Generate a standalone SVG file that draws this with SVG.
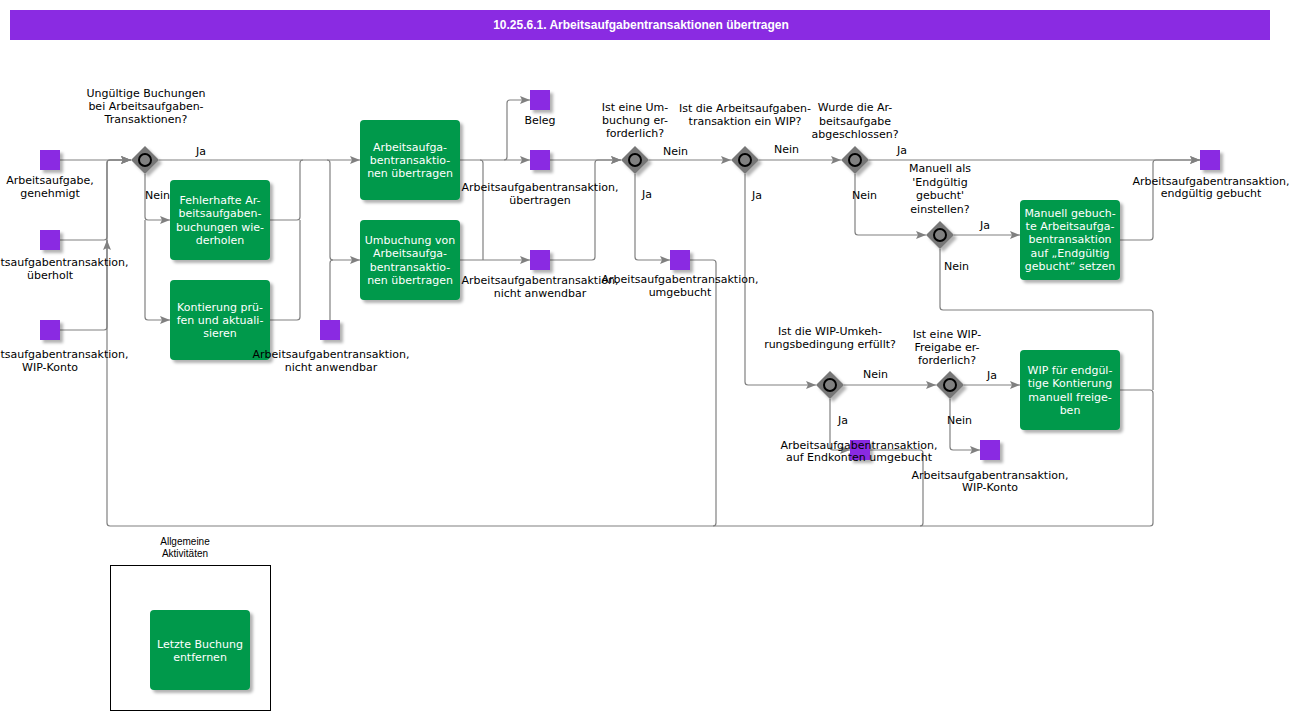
<svg xmlns="http://www.w3.org/2000/svg" width="1304" height="720" viewBox="0 0 1304 720">
<defs>
<filter id="sh" x="-20%" y="-20%" width="150%" height="150%"><feDropShadow dx="3" dy="3" stdDeviation="1.5" flood-color="#000" flood-opacity="0.3"/></filter>
<marker id="arr" markerUnits="userSpaceOnUse" viewBox="0 0 10 8" refX="10" refY="4" markerWidth="10" markerHeight="8" orient="auto"><path d="M0,0 L10,4 L0,8 L2,4 z" fill="#808080"/></marker>
</defs>
<style>
.t{font-family:"DejaVu Sans",Verdana,sans-serif;font-size:11px;fill:#000;text-anchor:middle}
.e{font-family:"DejaVu Sans",Verdana,sans-serif;font-size:11px;fill:#000}
.w{font-family:"DejaVu Sans",Verdana,sans-serif;font-size:11px;fill:#fff;text-anchor:middle}
.d{fill:#8a2be2;filter:url(#sh)}
.k{fill:#00994c;filter:url(#sh)}
.g{fill:#767676;filter:url(#sh)}
.gc{fill:#808080;stroke:#000;stroke-width:2}
.c path{fill:none;stroke:#808080;stroke-width:1.2}
.c path.a{marker-end:url(#arr)}
</style>
<rect width="1304" height="720" fill="#fff"/>
<g id="title"><rect x="10" y="10" width="1260" height="30" fill="#8a2be2"/><text x="641" y="29" font-family="'Liberation Sans',Arial,sans-serif" font-size="12" font-weight="bold" fill="#fff" text-anchor="middle">10.25.6.1. Arbeitsaufgabentransaktionen übertragen</text></g>

<g id="connectors" class="c">
<path class="a" d="M60,160 L131,160"/>
<path class="a" d="M60,240 L104,240 Q107,240 107,237 L107,163 Q107,160 110,160 L131,160"/>
<path class="a" d="M60,330 L104,330 Q107,330 107,327 L107,240"/>
<path class="a" d="M1120,390 L1150,390 Q1153,390 1153,393 L1153,523 Q1153,526 1150,526 L110,526 Q107,526 107,523 L107,163 Q107,160 110,160 L131,160"/>
<path d="M940,249 L940,307 Q940,310 943,310 L1150,310 Q1153,310 1153,313 L1153,390"/>
<path d="M690,260 L713,260 Q716,260 716,263 L716,523 Q716,526 713,526"/>
<path d="M870,450 L920,450 Q923,450 923,453 L923,523 Q923,526 920,526"/>
<path class="a" d="M159,160 L360,160"/>
<path d="M270,220 L297,220 Q300,220 300,217 L300,163 Q300,160 303,160"/>
<path d="M270,320 L297,320 Q300,320 300,317 L300,220"/>
<path class="a" d="M327,160 Q330,160 330,163 L330,257 Q330,260 333,260 L360,260"/>
<path d="M330,320 L330,263 Q330,260 333,260"/>
<path class="a" d="M145,174 L145,217 Q145,220 148,220 L170,220"/>
<path class="a" d="M145,220 L145,317 Q145,320 148,320 L170,320"/>
<path class="a" d="M460,160 L530,160"/>
<path class="a" d="M504,160 Q507,160 507,157 L507,103 Q507,100 510,100 L530,100"/>
<path class="a" d="M460,260 L530,260"/>
<path d="M480,160 Q483,160 483,163 L483,260"/>
<path class="a" d="M550,160 L621,160"/>
<path class="a" d="M550,260 L592,260 Q595,260 595,257 L595,163 Q595,160 598,160 L621,160"/>
<path class="a" d="M649,160 L731,160"/>
<path class="a" d="M635,174 L635,257 Q635,260 638,260 L670,260"/>
<path class="a" d="M759,160 L841,160"/>
<path class="a" d="M745,174 L745,382 Q745,385 748,385 L816,385"/>
<path class="a" d="M869,160 L1200,160"/>
<path class="a" d="M855,174 L855,232 Q855,235 858,235 L926,235"/>
<path class="a" d="M954,235 L1020,235"/>
<path class="a" d="M1120,240 L1150,240 Q1153,240 1153,237 L1153,163 Q1153,160 1156,160 L1200,160"/>
<path class="a" d="M844,385 L936,385"/>
<path class="a" d="M830,399 L830,447 Q830,450 833,450 L850,450"/>
<path class="a" d="M964,385 L1020,385"/>
<path class="a" d="M950,399 L950,447 Q950,450 953,450 L980,450"/>
</g>

<g id="edge-labels">
<text class="e" x="196" y="155">Ja</text>
<text class="e" x="145" y="199">Nein</text>
<text class="e" x="663" y="155">Nein</text>
<text class="e" x="642" y="198">Ja</text>
<text class="e" x="774" y="153">Nein</text>
<text class="e" x="752" y="199">Ja</text>
<text class="e" x="897" y="154">Ja</text>
<text class="e" x="852" y="199">Nein</text>
<text class="e" x="980" y="229">Ja</text>
<text class="e" x="944" y="270">Nein</text>
<text class="e" x="863" y="378">Nein</text>
<text class="e" x="838" y="424">Ja</text>
<text class="e" x="987" y="379">Ja</text>
<text class="e" x="947" y="424">Nein</text>
</g>

<g id="g1"><polygon class="g" points="145,146 159,160 145,174 131,160"/><circle class="gc" cx="145" cy="160" r="6"/><text class="t" x="146" y="97">Ungültige Buchungen</text><text class="t" x="146" y="110">bei Arbeitsaufgaben-</text><text class="t" x="146" y="123">Transaktionen?</text></g>
<g id="g2"><polygon class="g" points="635,146 649,160 635,174 621,160"/><circle class="gc" cx="635" cy="160" r="6"/><text class="t" x="635" y="111">Ist eine Um-</text><text class="t" x="635" y="124">buchung er-</text><text class="t" x="635" y="137">forderlich?</text></g>
<g id="g3"><polygon class="g" points="745,146 759,160 745,174 731,160"/><circle class="gc" cx="745" cy="160" r="6"/><text class="t" x="745" y="112">Ist die Arbeitsaufgaben-</text><text class="t" x="745" y="125">transaktion ein WIP?</text></g>
<g id="g4"><polygon class="g" points="855,146 869,160 855,174 841,160"/><circle class="gc" cx="855" cy="160" r="6"/><text class="t" x="855" y="111">Wurde die Ar-</text><text class="t" x="855" y="125">beitsaufgabe</text><text class="t" x="855" y="138">abgeschlossen?</text></g>
<g id="g5"><polygon class="g" points="940,221 954,235 940,249 926,235"/><circle class="gc" cx="940" cy="235" r="6"/><text class="t" x="940" y="172">Manuell als</text><text class="t" x="940" y="186">'Endgültig</text><text class="t" x="940" y="199">gebucht'</text><text class="t" x="940" y="213">einstellen?</text></g>
<g id="g6"><polygon class="g" points="830,371 844,385 830,399 816,385"/><circle class="gc" cx="830" cy="385" r="6"/><text class="t" x="830" y="335">Ist die WIP-Umkeh-</text><text class="t" x="830" y="348">rungsbedingung erfüllt?</text></g>
<g id="g7"><polygon class="g" points="950,371 964,385 950,399 936,385"/><circle class="gc" cx="950" cy="385" r="6"/><text class="t" x="947" y="338">Ist eine WIP-</text><text class="t" x="947" y="351">Freigabe er-</text><text class="t" x="947" y="364">forderlich?</text></g>

<g id="t1"><rect class="k" x="170" y="180" width="100" height="80" rx="4"/><text class="w" x="220" y="204">Fehlerhafte Ar-</text><text class="w" x="220" y="217">beitsaufgaben-</text><text class="w" x="220" y="231">buchungen wie-</text><text class="w" x="220" y="244">derholen</text></g>
<g id="t2"><rect class="k" x="170" y="280" width="100" height="80" rx="4"/><text class="w" x="220" y="311">Kontierung prü-</text><text class="w" x="220" y="324">fen und aktuali-</text><text class="w" x="220" y="337">sieren</text></g>
<g id="t3"><rect class="k" x="360" y="120" width="100" height="80" rx="4"/><text class="w" x="410" y="151">Arbeitsaufga-</text><text class="w" x="410" y="164">bentransaktio-</text><text class="w" x="410" y="177">nen übertragen</text></g>
<g id="t4"><rect class="k" x="360" y="220" width="100" height="80" rx="4"/><text class="w" x="410" y="244">Umbuchung von</text><text class="w" x="410" y="257">Arbeitsaufga-</text><text class="w" x="410" y="271">bentransaktio-</text><text class="w" x="410" y="284">nen übertragen</text></g>
<g id="t5"><rect class="k" x="1020" y="200" width="100" height="80" rx="4"/><text class="w" x="1070" y="217">Manuell gebuch-</text><text class="w" x="1070" y="230">te Arbeitsaufga-</text><text class="w" x="1070" y="243">bentransaktion</text><text class="w" x="1070" y="257">auf „Endgültig</text><text class="w" x="1070" y="270">gebucht“ setzen</text></g>
<g id="t6"><rect class="k" x="1020" y="350" width="100" height="80" rx="4"/><text class="w" x="1070" y="374">WIP für endgül-</text><text class="w" x="1070" y="387">tige Kontierung</text><text class="w" x="1070" y="401">manuell freige-</text><text class="w" x="1070" y="414">ben</text></g>

<g id="d1"><rect class="d" x="40" y="150" width="20" height="20"/><text class="t" x="50" y="184">Arbeitsaufgabe,</text><text class="t" x="50" y="197">genehmigt</text></g>
<g id="d2"><rect class="d" x="40" y="230" width="20" height="20"/><text class="t" x="50" y="266">Arbeitsaufgabentransaktion,</text><text class="t" x="50" y="279">überholt</text></g>
<g id="d3"><rect class="d" x="40" y="320" width="20" height="20"/><text class="t" x="50" y="358">Arbeitsaufgabentransaktion,</text><text class="t" x="50" y="371">WIP-Konto</text></g>
<g id="d4"><rect class="d" x="320" y="320" width="20" height="20"/><text class="t" x="331" y="358">Arbeitsaufgabentransaktion,</text><text class="t" x="331" y="371">nicht anwendbar</text></g>
<g id="d5"><rect class="d" x="530" y="90" width="20" height="20"/><text class="t" x="540" y="124">Beleg</text></g>
<g id="d6"><rect class="d" x="530" y="150" width="20" height="20"/><text class="t" x="540" y="191">Arbeitsaufgabentransaktion,</text><text class="t" x="540" y="204">übertragen</text></g>
<g id="d7"><rect class="d" x="530" y="250" width="20" height="20"/><text class="t" x="540" y="284">Arbeitsaufgabentransaktion,</text><text class="t" x="540" y="297">nicht anwendbar</text></g>
<g id="d8"><rect class="d" x="670" y="250" width="20" height="20"/><text class="t" x="680" y="283">Arbeitsaufgabentransaktion,</text><text class="t" x="680" y="296">umgebucht</text></g>
<g id="d9"><rect class="d" x="1200" y="150" width="20" height="20"/><text class="t" x="1211" y="185">Arbeitsaufgabentransaktion,</text><text class="t" x="1211" y="197">endgültig gebucht</text></g>
<g id="d10"><rect class="d" x="850" y="440" width="20" height="20"/><text class="t" x="859" y="449">Arbeitsaufgabentransaktion,</text><text class="t" x="859" y="461">auf Endkonten umgebucht</text></g>
<g id="d11"><rect class="d" x="980" y="440" width="20" height="20"/><text class="t" x="990" y="479">Arbeitsaufgabentransaktion,</text><text class="t" x="990" y="491">WIP-Konto</text></g>

<g id="group"><rect x="110.5" y="565.5" width="160" height="145" fill="none" stroke="#000" stroke-width="1"/><text x="185" y="545" font-family="'Liberation Sans',Arial,sans-serif" font-size="10" text-anchor="middle">Allgemeine</text><text x="185" y="557" font-family="'Liberation Sans',Arial,sans-serif" font-size="10" text-anchor="middle">Aktivitäten</text></g>
<g id="t7"><rect class="k" x="150" y="610" width="100" height="80" rx="4"/><text class="w" x="200" y="648">Letzte Buchung</text><text class="w" x="200" y="661">entfernen</text></g>
</svg>
